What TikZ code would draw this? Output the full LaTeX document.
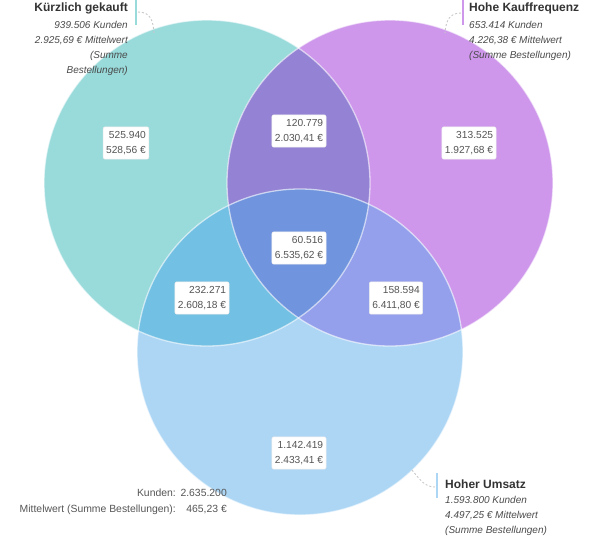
\documentclass[tikz,border=0pt]{standalone}
\usepackage{fontspec}
\setmainfont{Liberation Sans}
\definecolor{colA}{HTML}{99DADB}
\definecolor{colB}{HTML}{CE97EB}
\definecolor{colC}{HTML}{ADD6F5}
\definecolor{colAB}{HTML}{9483D4}
\definecolor{colAC}{HTML}{72C0E3}
\definecolor{colBC}{HTML}{94A0EB}
\definecolor{colABC}{HTML}{7094DE}
\definecolor{txtdark}{HTML}{333333}
\definecolor{txtmid}{HTML}{4A4A4A}
\definecolor{txtval}{HTML}{555555}
\definecolor{leader}{HTML}{C8C8C8}
\begin{document}
\begin{tikzpicture}[x=1pt,y=-1pt,
  valbox/.style={fill=white,draw=black!8,line width=0.5pt,rounded corners=2pt,align=right,
    inner xsep=3pt,inner ysep=4.5pt,text=txtval,font=\fontsize{10.2}{15}\selectfont},
  ttl/.style={inner sep=0pt,text=txtdark,font=\fontsize{12}{14}\selectfont\bfseries},
  sub/.style={inner sep=0pt,text=txtmid,font=\fontsize{10}{12}\selectfont\itshape},
  tot/.style={inner sep=0pt,text=txtval,font=\fontsize{10.4}{12}\selectfont},
  edge/.style={draw=white,draw opacity=0.6,line width=1.3pt},
  lead/.style={draw=leader,line width=0.9pt,dash pattern=on 2pt off 2pt},
  bar/.style={line width=2pt}
]
\useasboundingbox (0,0) rectangle (598,542);
\coordinate (cA) at (207,183);
\coordinate (cB) at (390,183);
\coordinate (cC) at (300,352);
\def\R{163pt}
% base fills
\fill[colA] (cA) circle[radius=\R];
\fill[colB] (cB) circle[radius=\R];
\fill[colC] (cC) circle[radius=\R];
% pairwise overlaps
\begin{scope}\clip (cA) circle[radius=\R]; \fill[colAB] (cB) circle[radius=\R];\end{scope}
\begin{scope}\clip (cA) circle[radius=\R]; \fill[colAC] (cC) circle[radius=\R];\end{scope}
\begin{scope}\clip (cB) circle[radius=\R]; \fill[colBC] (cC) circle[radius=\R];\end{scope}
\begin{scope}\clip (cA) circle[radius=\R]; \clip (cB) circle[radius=\R]; \fill[colABC] (cC) circle[radius=\R];\end{scope}
% outlines
\draw[edge] (cA) circle[radius=\R];
\draw[edge] (cB) circle[radius=\R];
\draw[edge] (cC) circle[radius=\R];

% value boxes
\node[valbox] (vA) at (126,143) {525.940\\528,56 €};
\node[valbox] (vB) at (469,143) {313.525\\1.927,68 €};
\node[valbox] (vAB) at (299,131) {120.779\\2.030,41 €};
\node[valbox] (vABC) at (299,248) {60.516\\6.535,62 €};
\node[valbox] (vAC) at (202,298) {232.271\\2.608,18 €};
\node[valbox] (vBC) at (396,298) {158.594\\6.411,80 €};
\node[valbox] (vC) at (299,453) {1.142.419\\2.433,41 €};

% label A
\draw[bar,colA] (136,0) -- (136,25);
\node[ttl,anchor=base east] (tA) at (128,11.5) {Kürzlich gekauft};
\node[sub,anchor=base east] (tA1) at (128,28.5) {939.506 Kunden};
\node[sub,anchor=base east] (tA2) at (128,43.5) {2.925,69 € Mittelwert};
\node[sub,anchor=base east] (tA3) at (128,58.5) {(Summe};
\node[sub,anchor=base east] (tA4) at (128,73.5) {Bestellungen)};
\coordinate (lA1) at (138,12);
\coordinate (lA2) at (154,33);
\draw[lead] (lA1) .. controls (151,12) and (153,21) .. (lA2);

% label B
\draw[bar,colB] (463,0) -- (463,25);
\node[ttl,anchor=base west] (tB) at (469,11.5) {Hohe Kauffrequenz};
\node[sub,anchor=base west] (tB1) at (469,28.5) {653.414 Kunden};
\node[sub,anchor=base west] (tB2) at (469,43.5) {4.226,38 € Mittelwert};
\node[sub,anchor=base west] (tB3) at (469,58) {(Summe Bestellungen)};
\coordinate (lB1) at (461,13);
\coordinate (lB2) at (445,33);
\draw[lead] (lB1) .. controls (449,13) and (446,21) .. (lB2);

% label C
\draw[bar,colC] (437,473) -- (437,498);
\node[ttl,anchor=base west] (tC) at (445,488) {Hoher Umsatz};
\node[sub,anchor=base west] (tC1) at (445,503.5) {1.593.800 Kunden};
\node[sub,anchor=base west] (tC2) at (445,518) {4.497,25 € Mittelwert};
\node[sub,anchor=base west] (tC3) at (445,533) {(Summe Bestellungen)};
\coordinate (lC1) at (412,470);
\coordinate (lC2) at (435,487);
\draw[lead] (lC1) .. controls (420,480) and (425,487) .. (lC2);

% totals
\node[tot,anchor=base east] (k1) at (176,496.5) {Kunden:};
\node[tot,anchor=base east] (k2) at (227,496.5) {2.635.200};
\node[tot,anchor=base east] (m1) at (176,512.5) {Mittelwert (Summe Bestellungen):};
\node[tot,anchor=base east] (m2) at (227,512.5) {465,23 €};
\end{tikzpicture}
\end{document}
